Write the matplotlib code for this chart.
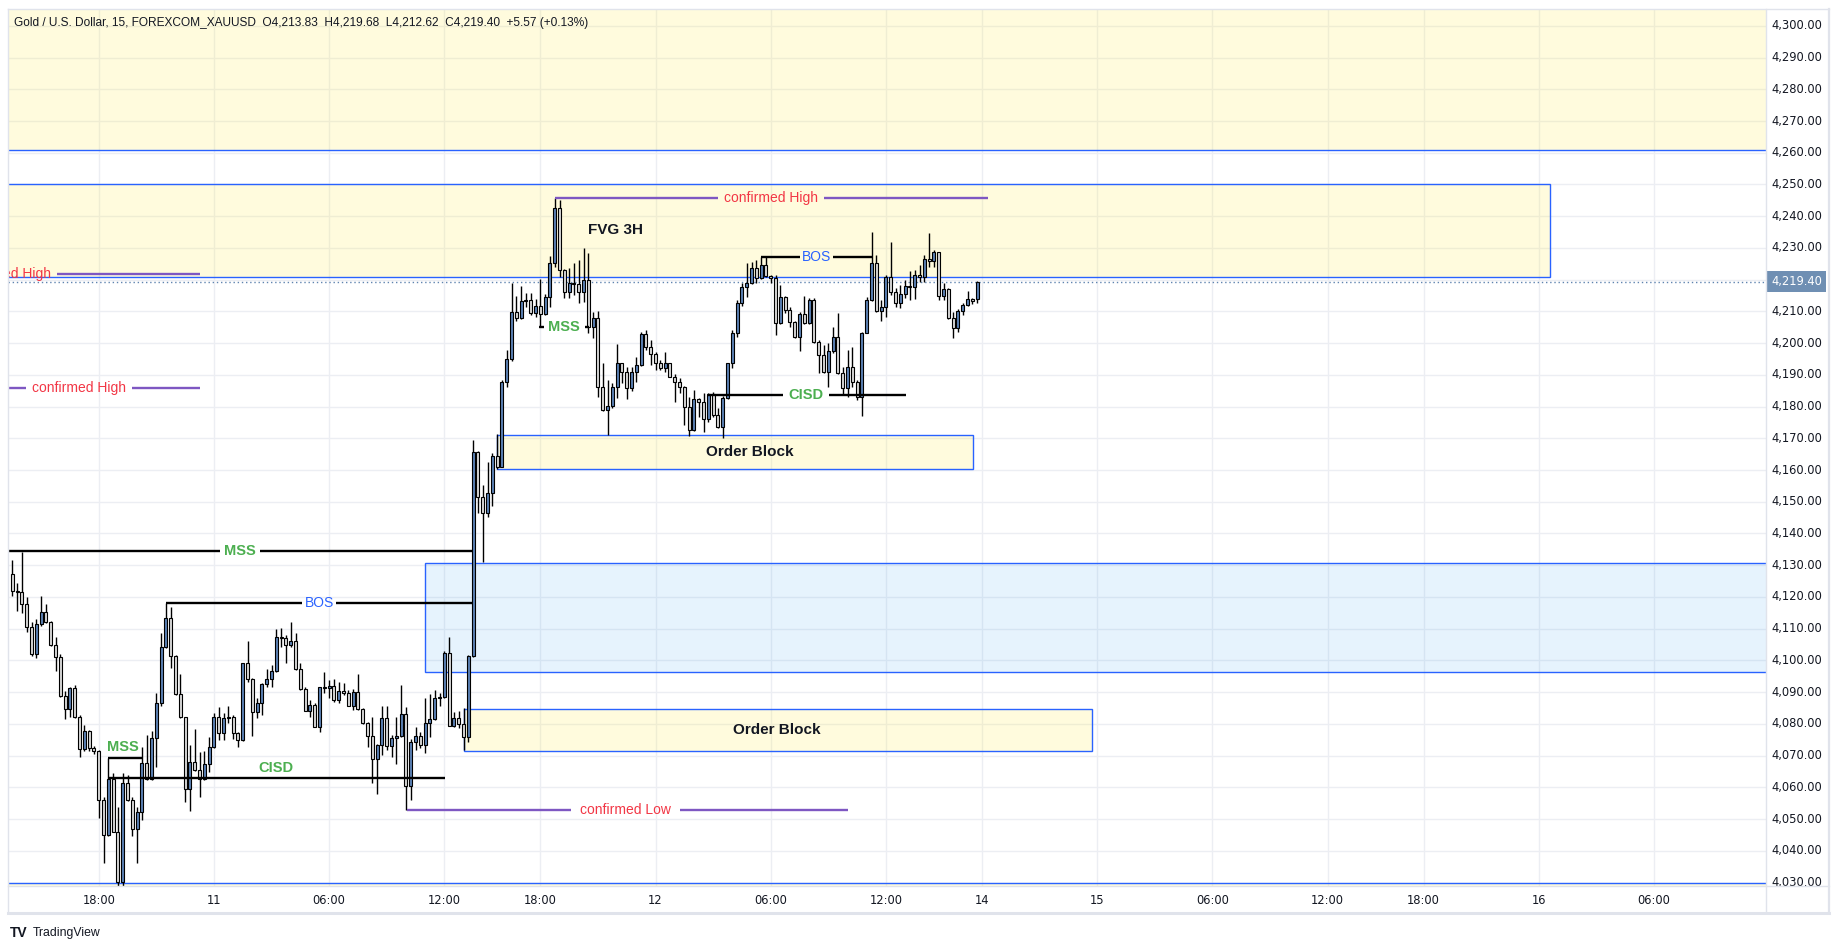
import numpy as np
import matplotlib.pyplot as plt
import matplotlib.transforms as mtrans
from matplotlib.patches import Rectangle
from matplotlib.lines import Line2D

# ── palette ────────────────────────────────────────────────────────────────
INK = "#131722"
GRID = "#eceef3"
FRAME = "#e0e3eb"
TV_BLUE = "#2962ff"
CREAM = (1.0, 0.92, 0.23, 0.17)
SKY = (0.13, 0.59, 0.95, 0.11)
PURPLE = "#7e57c2"
RED = "#f23645"
GREEN = "#4caf50"
UP = "#5b82b5"
DOWN = "#d9d9d9"

# ── data: 15m XAUUSD bars (bar index = x) ───────────────────────────────────
opens = [
    4127.2, 4121.8, 4121.6, 4117.7, 4110.4, 4101.9, 4111.4, 4115.4, 4112.0, 4104.8,
    4101.2, 4088.7, 4084.6, 4091.3, 4082.3, 4072.0, 4077.9, 4072.5, 4071.6, 4055.9,
    4044.9, 4062.7, 4046.0, 4030.1, 4061.3, 4055.9, 4047.0, 4052.1, 4067.6, 4062.7,
    4075.4, 4086.5, 4104.1, 4113.3, 4101.5, 4089.3, 4082.1, 4059.4, 4067.9, 4065.4,
    4062.7, 4067.2, 4072.6, 4082.3, 4077.2, 4081.7, 4082.3, 4077.0, 4074.9, 4099.2,
    4094.0, 4083.8, 4086.5, 4092.5, 4094.1, 4096.7, 4107.3, 4107.1, 4104.8, 4106.1,
    4097.2, 4090.9, 4084.2, 4085.9, 4079.1, 4091.5, 4091.3, 4091.9, 4087.5, 4090.3,
    4089.6, 4085.7, 4089.9, 4084.6, 4080.2, 4076.2, 4068.8, 4073.3, 4081.7, 4073.1,
    4075.4, 4076.2, 4083.0, 4060.5, 4074.4, 4076.2, 4073.3, 4080.2, 4081.4, 4088.3,
    4088.4, 4102.4, 4079.4, 4081.7, 4080.0, 4075.8, 4101.5, 4165.8, 4151.4, 4146.4,
    4152.7, 4164.4, 4161.1, 4187.6, 4194.9, 4209.7, 4208.0, 4213.3, 4213.5, 4209.4,
    4211.7, 4209.1, 4214.4, 4225.1, 4242.5, 4223.0, 4216.2, 4219.0, 4218.6, 4216.2,
    4219.9, 4205.2, 4207.8, 4186.3, 4178.9, 4180.3, 4186.1, 4193.6, 4191.0, 4185.7,
    4191.0, 4193.1, 4202.9, 4198.9, 4196.6, 4193.6, 4192.1, 4193.6, 4189.4, 4187.8,
    4186.3, 4180.0, 4172.6, 4182.3, 4181.5, 4176.0, 4183.9, 4177.3, 4173.7, 4182.6,
    4193.6, 4203.1, 4212.5, 4217.6, 4218.8, 4223.6, 4220.4, 4224.6, 4221.1, 4220.5,
    4206.2, 4214.6, 4210.4, 4206.8, 4201.8, 4209.2, 4206.2, 4213.6, 4200.5, 4196.3,
    4191.0, 4197.6, 4202.0, 4190.5, 4185.7, 4192.4, 4187.8, 4183.1, 4203.3, 4213.6,
    4225.1, 4210.2, 4211.3, 4220.9, 4216.2, 4212.5, 4215.4, 4218.0, 4217.8, 4221.5,
    4220.7, 4226.4, 4225.8, 4228.6, 4214.8, 4216.9, 4207.8, 4204.7, 4210.1, 4212.0,
    4213.8, 4213.83,
]
highs = [
    4131.6, 4124.3, 4134.3, 4119.9, 4112.0, 4113.0, 4120.3, 4117.8, 4112.5, 4107.3,
    4102.0, 4090.3, 4091.7, 4092.2, 4082.7, 4079.6, 4078.1, 4073.0, 4071.8, 4057.0,
    4069.1, 4064.4, 4053.9, 4064.4, 4063.9, 4057.0, 4053.9, 4072.6, 4076.5, 4077.9,
    4089.6, 4108.7, 4118.0, 4116.9, 4101.7, 4095.7, 4082.3, 4073.3, 4078.4, 4071.0,
    4071.5, 4076.0, 4083.3, 4085.2, 4083.3, 4085.6, 4082.8, 4077.5, 4099.3, 4106.1,
    4094.6, 4088.0, 4092.8, 4097.2, 4098.5, 4109.9, 4110.3, 4108.0, 4112.2, 4108.5,
    4099.1, 4091.7, 4087.5, 4086.5, 4091.7, 4096.2, 4093.8, 4094.0, 4093.3, 4092.8,
    4090.7, 4090.9, 4095.7, 4084.9, 4080.7, 4082.1, 4073.6, 4085.6, 4085.6, 4076.5,
    4082.3, 4092.2, 4085.4, 4075.2, 4079.1, 4077.5, 4088.0, 4089.4, 4090.7, 4089.8,
    4103.1, 4107.3, 4083.8, 4084.0, 4084.9, 4101.7, 4169.5, 4166.0, 4155.3, 4162.6,
    4165.3, 4171.3, 4188.4, 4197.8, 4219.1, 4214.9, 4218.0, 4215.9, 4215.7, 4213.8,
    4220.2, 4215.5, 4227.4, 4245.8, 4245.1, 4223.3, 4223.6, 4225.1, 4226.2, 4229.9,
    4228.3, 4209.9, 4210.1, 4193.8, 4188.4, 4187.3, 4199.7, 4193.8, 4192.6, 4192.6,
    4195.7, 4203.5, 4204.1, 4201.0, 4197.3, 4194.7, 4197.3, 4193.8, 4190.4, 4188.9,
    4186.6, 4183.1, 4185.2, 4182.6, 4184.2, 4184.4, 4184.7, 4179.4, 4183.3, 4193.8,
    4204.1, 4213.6, 4218.8, 4225.1, 4225.7, 4226.2, 4227.2, 4227.2, 4221.5, 4221.4,
    4218.3, 4214.8, 4211.3, 4207.1, 4209.9, 4214.8, 4214.1, 4214.1, 4201.0, 4199.4,
    4199.9, 4205.2, 4209.4, 4192.6, 4197.8, 4198.9, 4188.4, 4203.6, 4214.4, 4234.9,
    4227.8, 4213.6, 4221.5, 4232.0, 4217.3, 4218.3, 4219.9, 4222.8, 4223.0, 4224.6,
    4227.8, 4234.8, 4229.3, 4228.8, 4218.8, 4217.3, 4209.9, 4210.9, 4212.5, 4216.5,
    4214.1, 4219.68,
]
lows = [
    4120.3, 4115.7, 4114.8, 4109.1, 4101.5, 4100.9, 4111.0, 4111.8, 4104.5, 4096.8,
    4088.5, 4081.6, 4082.3, 4082.0, 4069.4, 4071.4, 4071.4, 4070.4, 4050.4, 4036.3,
    4044.6, 4045.8, 4028.7, 4028.7, 4055.6, 4044.7, 4036.3, 4049.7, 4062.4, 4062.4,
    4066.5, 4085.6, 4103.8, 4097.7, 4089.0, 4081.7, 4055.4, 4052.6, 4065.1, 4057.0,
    4062.4, 4064.9, 4072.3, 4074.9, 4074.9, 4080.2, 4075.2, 4072.6, 4074.6, 4093.3,
    4076.3, 4081.8, 4082.8, 4091.7, 4091.7, 4096.4, 4104.3, 4099.1, 4104.3, 4097.0,
    4090.7, 4084.0, 4082.3, 4078.9, 4077.5, 4089.6, 4088.3, 4087.0, 4086.7, 4089.1,
    4085.5, 4084.4, 4084.4, 4079.9, 4072.8, 4061.5, 4057.8, 4070.2, 4071.8, 4069.7,
    4067.3, 4076.0, 4052.9, 4056.0, 4071.8, 4072.3, 4070.7, 4076.0, 4081.1, 4085.6,
    4088.1, 4079.2, 4079.1, 4078.6, 4071.8, 4074.4, 4101.0, 4146.6, 4131.1, 4145.1,
    4148.8, 4160.2, 4160.8, 4186.1, 4194.5, 4207.0, 4207.6, 4211.3, 4208.9, 4208.3,
    4205.2, 4208.8, 4211.3, 4224.0, 4220.7, 4214.1, 4214.1, 4215.2, 4212.5, 4213.1,
    4203.1, 4201.5, 4183.1, 4178.6, 4171.0, 4179.5, 4182.6, 4187.4, 4182.3, 4184.8,
    4187.8, 4192.9, 4197.8, 4193.1, 4191.5, 4191.5, 4191.0, 4189.2, 4181.5, 4184.2,
    4174.2, 4170.7, 4172.4, 4176.8, 4172.1, 4175.2, 4176.8, 4173.1, 4170.0, 4182.3,
    4192.0, 4202.0, 4211.7, 4214.6, 4218.5, 4218.8, 4220.1, 4220.9, 4218.8, 4202.6,
    4206.0, 4209.4, 4205.2, 4201.6, 4197.6, 4206.0, 4206.0, 4200.1, 4190.7, 4190.7,
    4186.3, 4196.8, 4190.3, 4183.6, 4183.1, 4186.3, 4182.1, 4177.0, 4203.1, 4213.4,
    4209.9, 4207.1, 4208.3, 4215.2, 4211.3, 4211.0, 4214.1, 4213.6, 4213.8, 4219.4,
    4219.4, 4224.1, 4224.1, 4213.6, 4213.6, 4207.5, 4201.5, 4203.6, 4208.9, 4211.7,
    4212.3, 4212.62,
]
closes = [
    4121.8, 4121.6, 4117.7, 4110.4, 4101.9, 4111.4, 4115.4, 4112.0, 4104.8, 4101.2,
    4088.7, 4084.6, 4091.3, 4082.3, 4072.0, 4077.9, 4072.5, 4071.6, 4055.9, 4044.9,
    4062.7, 4046.0, 4030.1, 4061.3, 4055.9, 4047.0, 4052.1, 4067.6, 4062.7, 4075.4,
    4086.5, 4104.1, 4113.3, 4101.5, 4089.3, 4082.1, 4059.4, 4067.9, 4065.4, 4062.7,
    4067.2, 4072.6, 4082.3, 4077.2, 4081.7, 4082.3, 4077.0, 4074.9, 4099.2, 4094.0,
    4083.8, 4086.5, 4092.5, 4094.1, 4096.7, 4107.3, 4107.1, 4104.8, 4106.1, 4097.2,
    4090.9, 4084.2, 4085.9, 4079.1, 4091.5, 4091.3, 4091.9, 4087.5, 4090.3, 4089.6,
    4085.7, 4089.9, 4084.6, 4080.2, 4076.2, 4068.8, 4073.3, 4081.7, 4073.1, 4075.4,
    4076.2, 4083.0, 4060.5, 4074.4, 4076.2, 4073.3, 4080.2, 4081.4, 4088.3, 4088.4,
    4102.4, 4079.4, 4081.7, 4080.0, 4075.8, 4101.5, 4165.8, 4151.4, 4146.4, 4152.7,
    4164.4, 4161.1, 4187.6, 4194.9, 4209.7, 4208.0, 4213.3, 4213.5, 4209.4, 4211.7,
    4209.1, 4214.4, 4225.1, 4242.5, 4223.0, 4216.2, 4219.0, 4218.6, 4216.2, 4219.9,
    4205.2, 4207.8, 4186.3, 4178.9, 4180.3, 4186.1, 4193.6, 4191.0, 4185.7, 4191.0,
    4193.1, 4202.9, 4198.9, 4196.6, 4193.6, 4192.1, 4193.6, 4189.4, 4187.8, 4186.3,
    4180.0, 4172.6, 4182.3, 4181.5, 4176.0, 4183.9, 4177.3, 4173.7, 4182.6, 4193.6,
    4203.1, 4212.5, 4217.6, 4218.8, 4223.6, 4220.4, 4224.6, 4221.1, 4220.5, 4206.2,
    4214.6, 4210.4, 4206.8, 4201.8, 4209.2, 4206.2, 4213.6, 4200.5, 4196.3, 4191.0,
    4197.6, 4202.0, 4190.5, 4185.7, 4192.4, 4187.8, 4183.1, 4203.3, 4213.6, 4225.1,
    4210.2, 4211.3, 4220.9, 4216.2, 4212.5, 4215.4, 4218.0, 4217.8, 4221.5, 4220.7,
    4226.4, 4225.8, 4228.6, 4214.8, 4216.9, 4207.8, 4204.7, 4210.1, 4212.0, 4213.8,
    4213.3, 4219.40,
]

time_tick_bars = [18, 42, 66, 90, 110, 134, 158, 182, 202, 226, 250, 274, 294, 318, 342]
time_tick_labels = ["18:00", "11", "06:00", "12:00", "18:00", "12", "06:00", "12:00",
                    "14", "15", "06:00", "12:00", "18:00", "16", "06:00"]
price_ticks = list(range(4030, 4301, 10))
last_price = 4219.40
title = ("Gold / U.S. Dollar, 15, FOREXCOM_XAUUSD  O4,213.83  H4,219.68  "
         "L4,212.62  C4,219.40  +5.57 (+0.13%)")

# ── zones: (x0, x1, y0, y1, fill) ──────────────────────────────────────────
XMIN, XMAX = -0.9, 365.35
YMIN, YMAX = 4028.9, 4305.3
zones = [
    (-10, 400, 4260.8, 4320, CREAM),      # premium zone
    (-10, 320.4, 4220.9, 4250.1, CREAM),  # FVG 3H
    (101, 200.1, 4160.2, 4171.0, CREAM),  # order block upper
    (94.2, 225.0, 4071.6, 4084.8, CREAM), # order block lower
    (85.9, 400, 4096.2, 4130.6, SKY),     # FVG
    (-10, 400, 4000, 4030.0, CREAM),      # discount zone
]

# ── structure lines: (x0, x1, y, line colour, label, label x, half gap, text colour, bold)
struct = [
    (XMIN, 96.0, 4134.5, "black", "MSS", 47.4, 4.2, GREEN, True),
    (32.0, 96.0, 4118.0, "black", "BOS", 63.9, 3.6, TV_BLUE, False),
    (109.8, 120.2, 4205.2, "black", "MSS", 115.0, 4.25, GREEN, True),
    (155.9, 179.0, 4227.2, "black", "BOS", 167.6, 3.45, TV_BLUE, False),
    (144.9, 186.2, 4183.6, "black", "CISD", 165.4, 4.8, GREEN, True),
    (113.0, 203.3, 4245.6, PURPLE, "confirmed High", 158.0, 11.05, RED, False),
    (82.3, 174.2, 4052.9, PURPLE, "confirmed Low", 127.8, 11.35, RED, False),
    (XMIN - 30, 39.0, 4185.7, PURPLE, "confirmed High", 13.9, 11.1, RED, False),
    (XMIN - 30, 39.0, 4221.7, PURPLE, "confirmed High", -1.7, 11.1, RED, False),
]
# lines with the label sitting above: (x0, x1, y, label, label x)
struct_above = [
    (19.9, 27.0, 4069.3, "MSS", 23.1),
    (20.0, 90.1, 4062.8, "CISD", 54.9),
]

W, H = 1840, 950
plt.rcParams["font.family"] = ["Liberation Sans", "DejaVu Sans"]
fig = plt.figure(figsize=(W / 100, H / 100), dpi=100)
fig.patch.set_facecolor("white")
ax = fig.add_axes([8 / W, 64 / H, 1758 / W, 877 / H])
ax.set_xlim(XMIN, XMAX)
ax.set_ylim(YMIN, YMAX)
for s in ax.spines.values():
    s.set_visible(False)
ax.set_xticks([])
ax.set_yticks([])

# grid
for p in price_ticks:
    ax.axhline(p, color=GRID, lw=1, zorder=0)
for b in time_tick_bars:
    ax.axvline(b, color=GRID, lw=1, zorder=0)

# zones
for x0, x1, y0, y1, fc in zones:
    ax.add_patch(Rectangle((x0, y0), x1 - x0, y1 - y0, fc=fc, ec=TV_BLUE,
                           lw=1, zorder=1))

# price line
ax.axhline(last_price, color="#5f84b0", lw=1, ls=(0, (1, 2)), zorder=2)

# candles
x = np.arange(len(closes))
o = np.array(opens); c = np.array(closes)
hi = np.array(highs); lo = np.array(lows)
up = c >= o
ax.vlines(x, lo, hi, color="black", lw=1, zorder=3)
bottom = np.minimum(o, c)
height = np.maximum(np.abs(c - o), 0.3)
ax.bar(x, height, bottom=bottom, width=0.62,
       color=np.where(up, UP, DOWN), edgecolor="black", lw=0.8, zorder=4)

# structure lines with breaks for the label
for x0, x1, y, lc, txt, xc, g, tc, bold in struct:
    ax.plot([x0, xc - g], [y, y], color=lc, lw=1.7, zorder=5, solid_capstyle="butt")
    ax.plot([xc + g, x1], [y, y], color=lc, lw=1.7, zorder=5, solid_capstyle="butt")
    ax.text(xc, y, txt, color=tc, fontsize=10.5 if bold else 10, ha="center",
            va="center", fontweight="bold" if bold else "normal", zorder=6,
            clip_on=True)

for x0, x1, y, txt, xc in struct_above:
    ax.plot([x0, x1], [y, y], color="black", lw=1.7, zorder=5, solid_capstyle="butt")
    ax.text(xc, y + 1.2, txt, color=GREEN, fontsize=10.5, ha="center", va="bottom",
            fontweight="bold", zorder=6)

# zone labels
ax.text(125.7, 4235.6, "FVG 3H", fontsize=11, fontweight="bold", color=INK,
        ha="center", va="center", zorder=6)
ax.text(153.7, 4165.6, "Order Block", fontsize=11, fontweight="bold", color=INK,
        ha="center", va="center", zorder=6)
ax.text(159.3, 4078.2, "Order Block", fontsize=11, fontweight="bold", color=INK,
        ha="center", va="center", zorder=6)

# title
ax.text(0.0034, 0.984, title, transform=ax.transAxes, fontsize=8.6, color=INK,
        ha="left", va="center", zorder=7)

# right price scale
ytrans = mtrans.blended_transform_factory(ax.transAxes, ax.transData)
for p in price_ticks:
    ax.text(1.0029, p, f"{p:,.2f}", transform=ytrans, fontsize=8.3, color=INK,
            ha="left", va="center", clip_on=False, family="DejaVu Sans")
ax.text(1.0029, last_price, f"{last_price:,.2f}", transform=ytrans, fontsize=8.3,
        color="white", ha="left", va="center", clip_on=False, family="DejaVu Sans",
        bbox=dict(boxstyle="square,pad=0.35", fc="#6f8fb3", ec="none"), zorder=8)

# time scale
xtrans = mtrans.blended_transform_factory(ax.transData, ax.transAxes)
for b, lab in zip(time_tick_bars, time_tick_labels):
    ax.text(b, -0.0171, lab, transform=xtrans, fontsize=8.3, color=INK,
            ha="center", va="center", clip_on=False, family="DejaVu Sans")

# pane frame
def fline(x0, y0, x1, y1, lw=1.0):
    fig.add_artist(Line2D([x0 / W, x1 / W], [1 - y0 / H, 1 - y1 / H],
                          color=FRAME, lw=lw, transform=fig.transFigure))

fline(8, 9, 1829, 9)
fline(8, 9, 8, 913)
fline(1829, 9, 1829, 913, 1.6)
fline(8, 913, 1829, 913, 2.2)
fline(1766, 9, 1766, 913)
fline(8, 886, 1829, 886)

# watermark
fig.text(10 / W, 1 - 933 / H, "TV", fontsize=10, fontweight="bold", color=INK,
         ha="left", va="center")
fig.text(33 / W, 1 - 933 / H, "TradingView", fontsize=8.8, color=INK,
         ha="left", va="center")

fig.savefig("out.png", dpi=100, facecolor="white")
